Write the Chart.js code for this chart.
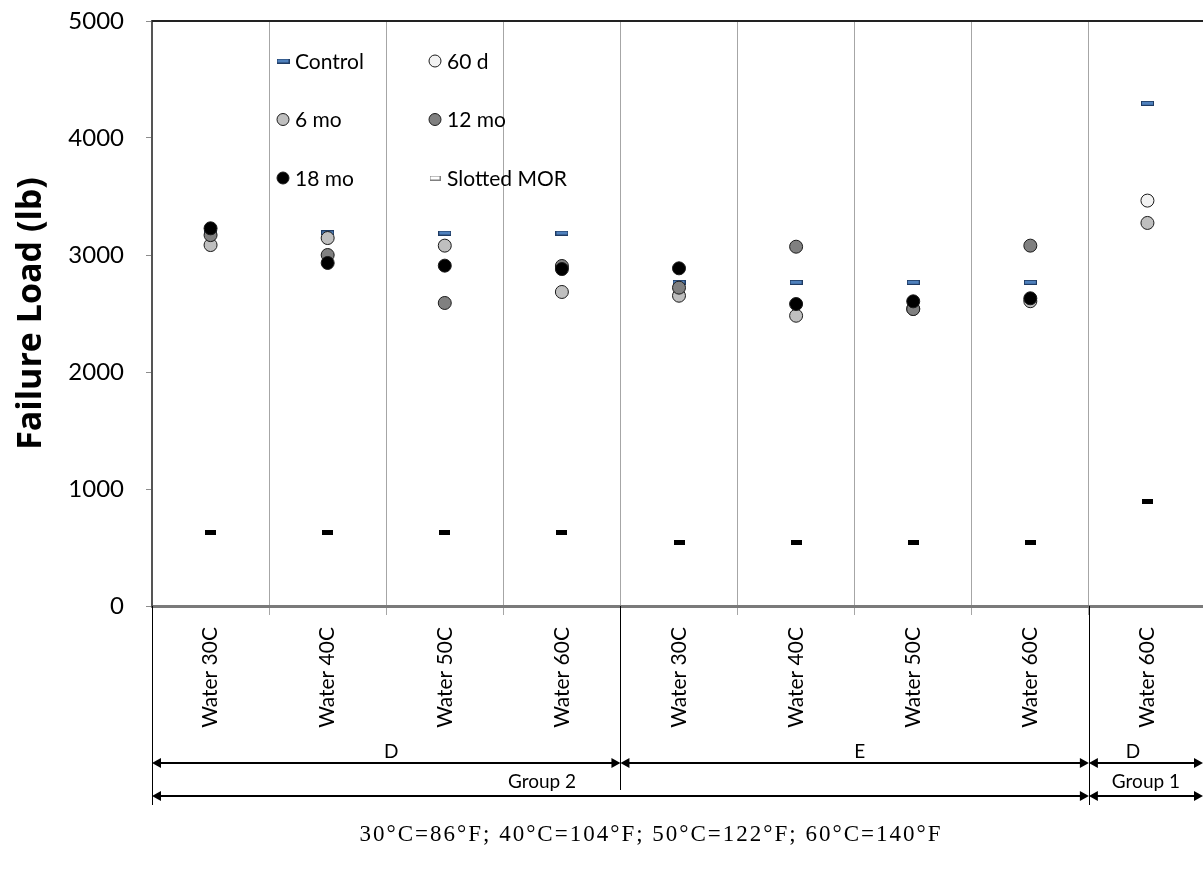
<!DOCTYPE html>
<html>
<head>
<meta charset="utf-8">
<script src="https://cdn.jsdelivr.net/npm/chart.js@4/dist/chart.umd.min.js"></script>
<style>
    body { margin: 0; background: #fff; overflow: hidden; }
    #wrap { position: absolute; left: 0; top: 0; width: 1214px; height: 870px; }
    #note {
        position: absolute; left: 0; width: 1302px; top: 821px; text-align: center;
        font-family: "Liberation Serif", serif; font-size: 23px; letter-spacing: 2px; color: #000;
    }
</style>
</head>
<body>
<div id="wrap"><canvas id="loadChart"></canvas></div>
<div id="note">30°C=86°F; 40°C=104°F; 50°C=122°F; 60°C=140°F</div>
<script>
const categories = ['Water 30C', 'Water 40C', 'Water 50C', 'Water 60C',
    'Water 30C', 'Water 40C', 'Water 50C', 'Water 60C', 'Water 60C'];

const controlLoad = [3190, 3190, 3188, 3188, 2767, 2767, 2767, 2767, 4297];
const load60d = [null, null, null, null, null, null, null, null, 3465];
const load6mo = [3085, 3145, 3080, 2684, 2652, 2481, 2540, 2605, 3274];
const load12mo = [3170, 3000, 2590, 2906, 2721, 3071, 2538, 3080, null];
const load18mo = [3228, 2932, 2909, 2880, 2886, 2581, 2604, 2630, null];
const slottedMor = [632, 632, 632, 632, 547, 547, 547, 547, 889];

const yTicks = [0, 1000, 2000, 3000, 4000, 5000];

// bracket rows under the axis: [first category, last category, label]
const productSpans = [[0, 3, 'D'], [4, 7, 'E'], [8, 8, 'D']];
const groupSpans = [[0, 7, 'Group 2'], [8, 8, 'Group 1']];

const FONT = 'Lato, "Liberation Sans", sans-serif';

function makeDash(w, h, fill, stroke) {
    const c = document.createElement('canvas');
    c.width = w;
    c.height = h;
    const ctx = c.getContext('2d');
    ctx.fillStyle = fill;
    ctx.fillRect(0, 0, w, h);
    ctx.strokeStyle = stroke;
    ctx.lineWidth = 1;
    ctx.strokeRect(0.5, 0.5, w - 1, h - 1);
    return c;
}

const controlDash = makeDash(13, 5, '#4f81bd', '#1f3b63');
const morDash = makeDash(11, 5, '#000000', '#000000');
const morLegendDash = makeDash(11, 5, '#ffffff', '#7f7f7f');

function circleSet(label, data, fill, order) {
    return {
        label, data, order,
        showLine: false,
        pointStyle: 'circle',
        pointRadius: 6.5,
        pointHoverRadius: 6.5,
        pointBackgroundColor: fill,
        pointBorderColor: '#1a1a1a',
        pointBorderWidth: 1,
        backgroundColor: fill,
        borderColor: '#1a1a1a'
    };
}

const datasets = [
    {
        label: 'Control', data: controlLoad, order: 4, showLine: false,
        pointStyle: controlDash, pointRadius: 7, legendMark: controlDash,
        backgroundColor: '#4f81bd', borderColor: '#1f3b63'
    },
    circleSet('60 d', load60d, '#f2f2f2', 3),
    circleSet('6 mo', load6mo, '#bfbfbf', 2),
    circleSet('12 mo', load12mo, '#808080', 1),
    circleSet('18 mo', load18mo, '#000000', 0),
    {
        label: 'Slotted MOR', data: slottedMor, order: 5, showLine: false,
        pointStyle: morDash, pointRadius: 6, legendMark: morLegendDash,
        backgroundColor: '#000', borderColor: '#000'
    }
];

function drawArrow(ctx, x1, x2, y) {
    const head = 9;
    ctx.beginPath();
    ctx.moveTo(x1 + 2, y);
    ctx.lineTo(x2 - 2, y);
    ctx.stroke();
    ctx.beginPath();
    ctx.moveTo(x1, y);
    ctx.lineTo(x1 + head, y - 5);
    ctx.lineTo(x1 + head, y + 5);
    ctx.closePath();
    ctx.fill();
    ctx.beginPath();
    ctx.moveTo(x2, y);
    ctx.lineTo(x2 - head, y - 5);
    ctx.lineTo(x2 - head, y + 5);
    ctx.closePath();
    ctx.fill();
}

const extrasPlugin = {
    id: 'extras',
    afterDraw(chart) {
        const ctx = chart.ctx;
        const area = chart.chartArea;
        const xs = chart.scales.x;
        const step = xs.getPixelForValue(1) - xs.getPixelForValue(0);
        const edgeLeft = i => xs.getPixelForValue(i) - step / 2;
        const edgeRight = i => Math.min(xs.getPixelForValue(i) + step / 2, 1203);

        ctx.save();
        // top border of the plot area
        ctx.strokeStyle = '#222';
        ctx.lineWidth = 2;
        ctx.beginPath();
        ctx.moveTo(area.left, area.top);
        ctx.lineTo(area.right, area.top);
        ctx.stroke();

        // separators under the axis
        ctx.strokeStyle = '#000';
        ctx.lineWidth = 1;
        const sep1 = Math.round(edgeLeft(4)) + 0.5;
        const sep2 = Math.round(edgeLeft(8)) + 0.5;
        const left = Math.round(area.left) + 0.5;
        [[left, 805], [sep1, 790], [sep2, 805]].forEach(([x, yEnd]) => {
            ctx.beginPath();
            ctx.moveTo(x, area.bottom);
            ctx.lineTo(x, yEnd);
            ctx.stroke();
        });

        // bracket arrows and their labels
        ctx.fillStyle = '#000';
        ctx.lineWidth = 2;
        ctx.font = '19px ' + FONT;
        ctx.textAlign = 'center';
        ctx.textBaseline = 'middle';
        productSpans.forEach(([a, b, text]) => {
            const x1 = edgeLeft(a), x2 = edgeRight(b);
            drawArrow(ctx, x1, x2, 763);
            const mid = b === 8 ? x1 + 44 : (x1 + x2) / 2 + 5;
            ctx.fillText(text, mid, 752);
        });
        groupSpans.forEach(([a, b, text]) => {
            const x1 = edgeLeft(a), x2 = edgeRight(b);
            drawArrow(ctx, x1, x2, 796);
            const mid = b === 8 ? (x1 + x2) / 2 : x1 + 390;
            ctx.fillText(text, mid, 782);
        });

        // legend, two columns inside the plot
        ctx.font = '21px ' + FONT;
        ctx.textAlign = 'left';
        chart.data.datasets.forEach((ds, i) => {
            const col = i % 2, row = Math.floor(i / 2);
            const mx = area.left + 131 + col * 152;
            const my = area.top + 40 + row * 58.5;
            if (ds.legendMark) {
                const m = ds.legendMark;
                ctx.drawImage(m, mx - m.width / 2, my - m.height / 2);
            } else {
                ctx.beginPath();
                ctx.arc(mx, my, 6, 0, Math.PI * 2);
                ctx.fillStyle = ds.pointBackgroundColor;
                ctx.fill();
                ctx.lineWidth = 1;
                ctx.strokeStyle = '#1a1a1a';
                ctx.stroke();
            }
            ctx.fillStyle = '#000';
            ctx.fillText(ds.label, mx + 12, my + 1);
        });
        ctx.restore();
    }
};

new Chart(document.getElementById('loadChart'), {
    type: 'line',
    data: { labels: categories, datasets },
    options: {
        responsive: true,
        maintainAspectRatio: false,
        animation: false,
        events: [],
        layout: { padding: { top: 21, right: 0, bottom: 0, left: 0 } },
        plugins: { legend: { display: false }, tooltip: { enabled: false } },
        scales: {
            x: {
                type: 'category',
                offset: true,
                grid: { offset: true, color: '#a6a6a6', lineWidth: 1, tickLength: 9 },
                border: { color: '#7a7a7a', width: 3 },
                ticks: {
                    minRotation: 90, maxRotation: 90, autoSkip: false,
                    padding: 12, color: '#000', font: { family: FONT, size: 21 }
                },
                afterFit: (scale) => { scale.height = 264; }
            },
            y: {
                min: 0, max: 5000,
                afterBuildTicks: (scale) => { scale.ticks = yTicks.map(v => ({ value: v })); },
                grid: { drawOnChartArea: false, color: '#8c8c8c', tickLength: 6 },
                border: { color: '#555', width: 2 },
                ticks: {
                    padding: 22, color: '#000', font: { family: FONT, size: 24 },
                    callback: (v) => String(v)
                },
                title: {
                    display: true, text: 'Failure Load (lb)', color: '#000',
                    font: { family: '"Open Sans", sans-serif', size: 34, weight: 'bold' },
                    padding: { top: 11, bottom: 0 }
                },
                afterFit: (scale) => {
                    scale.width = 152;
                    // the label padding would otherwise push the plot top down
                    scale.paddingTop = 0;
                    scale.paddingBottom = 0;
                }
            }
        }
    },
    plugins: [extrasPlugin]
});
</script>
</body>
</html>
